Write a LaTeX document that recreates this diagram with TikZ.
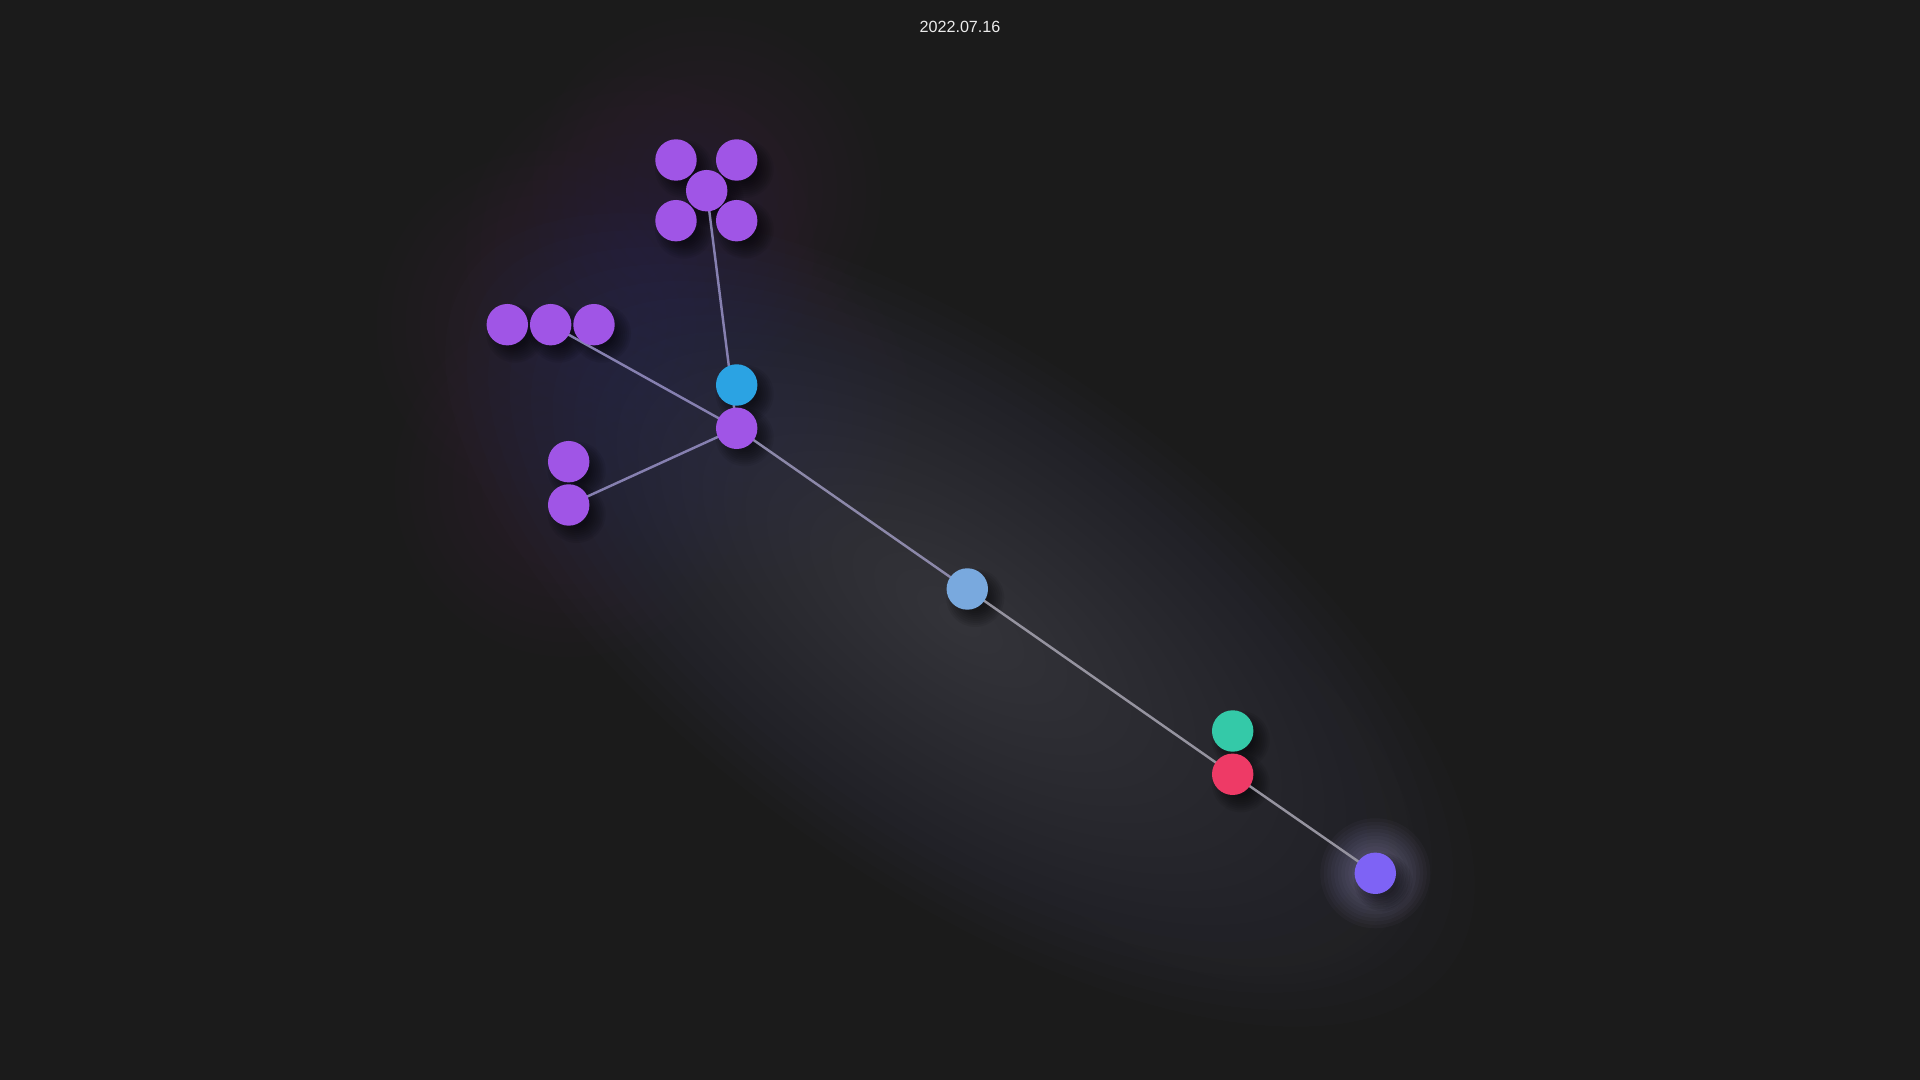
\documentclass[tikz,border=0pt]{standalone}
\usepackage{fontspec}
\setmainfont{Liberation Sans}
\pgfdeclarelayer{bgl}
\pgfdeclarelayer{glow}
\pgfdeclarelayer{shadow}
\pgfdeclarelayer{edges}
\pgfsetlayers{bgl,glow,shadow,edges,main}
\definecolor{bgc}{HTML}{1B1B1B}
\definecolor{cpurple}{HTML}{A055E6}
\definecolor{cblue}{HTML}{2BA3E3}
\definecolor{clight}{HTML}{79A9DE}
\definecolor{cgreen}{HTML}{34C9A8}
\definecolor{cred}{HTML}{EE3A66}
\definecolor{cviolet}{HTML}{7E63F5}
\definecolor{edgepurple}{HTML}{8680B0}
\definecolor{edgegray}{HTML}{95939F}
\definecolor{glowgray}{HTML}{60626E}
\definecolor{glowwarm}{HTML}{606062}
\definecolor{glowpurple}{HTML}{62528E}
\definecolor{halo}{HTML}{C4BCFF}
\tikzset{
  orb/.style={circle, minimum size=0.414cm, inner sep=0pt, draw=none, fill=#1},
  edge/.style={line width=0.7pt, line cap=round},
}
\begin{document}
\begin{tikzpicture}[x=0.01cm, y=-0.01cm]
\begin{pgfonlayer}{bgl}
\fill[bgc] (0,0) rectangle (1920,1080);
\end{pgfonlayer}
\useasboundingbox (0,0) rectangle (1920,1080);

% balls
\node[orb=cpurple] (t1) at (676,160) {};
\node[orb=cpurple] (t2) at (736.7,160) {};
\node[orb=cpurple] (t3) at (706.7,190.7) {};
\node[orb=cpurple] (t4) at (676,220.7) {};
\node[orb=cpurple] (t5) at (736.7,220.7) {};
\node[orb=cpurple] (r1) at (507.3,324.7) {};
\node[orb=cpurple] (r2) at (550.7,324.7) {};
\node[orb=cpurple] (r3) at (594,324.7) {};
\node[orb=cblue] (bl) at (736.7,385) {};
\node[orb=cpurple] (hub) at (736.7,428.3) {};
\node[orb=cpurple] (p1) at (568.7,461.7) {};
\node[orb=cpurple] (p2) at (568.7,505) {};
\node[orb=clight] (lb) at (967.3,589) {};
\node[orb=cgreen] (gr) at (1232.7,731) {};
\node[orb=cred] (rd) at (1232.7,774.3) {};
\node[orb=cviolet] (vi) at (1375.3,873.3) {};

\node[text=white!92!black, font=\fontsize{4.6}{5.6}\selectfont] (date) at (960,26.5) {2022.07.16};

% edges
\begin{pgfonlayer}{edges}
\draw[edge, edgepurple] (t3.center) -- (hub.center);
\draw[edge, edgepurple] (r2.center) -- (hub.center);
\draw[edge, edgepurple] (p2.center) -- (hub.center);
\draw[edge, edgepurple!60!edgegray] (hub.center) -- (lb.center);
\draw[edge, edgegray] (lb.center) -- (rd.center);
\draw[edge, edgegray] (rd.center) -- (vi.center);
\end{pgfonlayer}

% shadows
\begin{pgfonlayer}{shadow}
\foreach \n in {t1,t2,t3,t4,t5,r1,r2,r3,bl,hub,p1,p2,lb,gr,rd,vi}{
  \foreach \r in {0.13,0.15,...,0.29}{
    \fill[black, opacity=0.07] ([shift={(8,9)}]\n.center) circle[radius=\r cm];
  }
}
\end{pgfonlayer}

% glows
\begin{pgfonlayer}{glow}
\begin{scope}[shift={(960,620)}, rotate=-35]
  \foreach \k in {1,...,24}{
    \pgfmathsetmacro\rx{\k*0.25}
    \pgfmathsetmacro\ry{\k*0.11}
    \fill[glowgray, opacity=0.027] (0,0) ellipse[x radius=\rx cm, y radius=\ry cm];
  }
\end{scope}
\begin{scope}[shift={(1180,780)}, rotate=-35]
  \foreach \k in {1,...,12}{
    \pgfmathsetmacro\rx{\k*0.22}
    \pgfmathsetmacro\ry{\k*0.14}
    \fill[glowwarm, opacity=0.015] (0,0) ellipse[x radius=\rx cm, y radius=\ry cm];
  }
\end{scope}
\foreach \cx/\cy in {706.7/190.7, 550.7/324.7, 568.7/483, 737/410, 640/250}{
  \foreach \k in {1,...,12}{
    \pgfmathsetmacro\rr{\k*0.145}
    \fill[glowpurple, opacity=0.017] (\cx,\cy) circle[radius=\rr cm];
  }
}
\foreach \k in {1,...,10}{
  \pgfmathsetmacro\rr{0.2+\k*0.035}
  \fill[halo, opacity=0.03] (vi.center) circle[radius=\rr cm];
}
\end{pgfonlayer}
\end{tikzpicture}
\end{document}
